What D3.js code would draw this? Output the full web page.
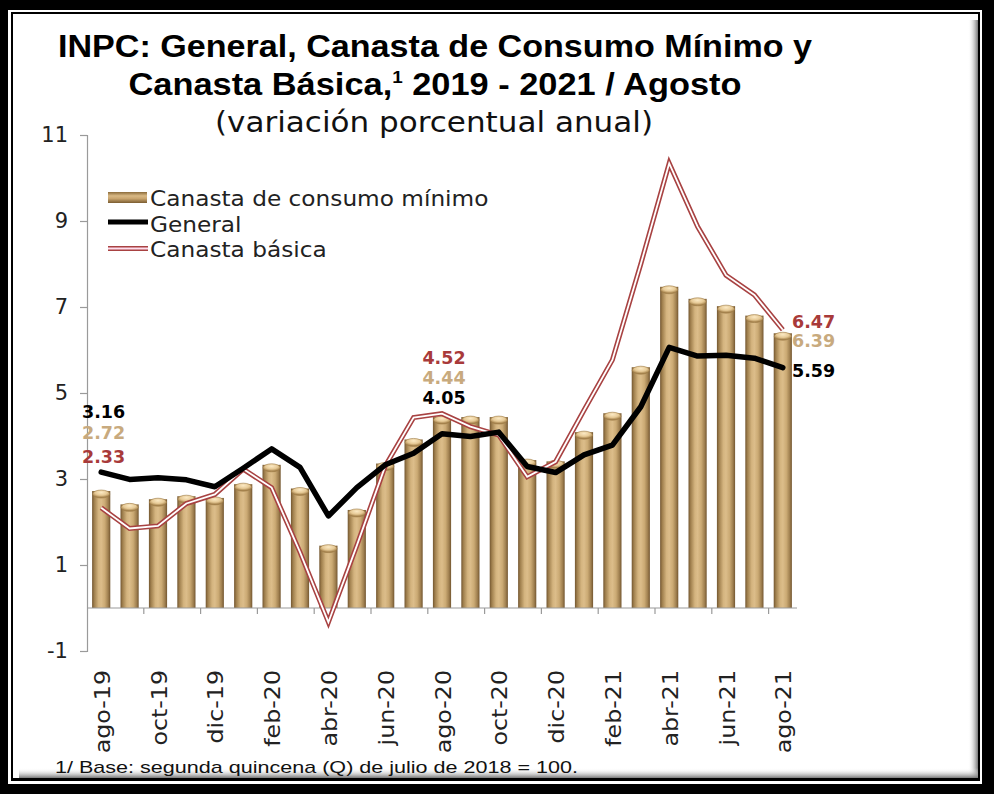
<!DOCTYPE html>
<html>
<head>
<meta charset="utf-8">
<script src="https://cdn.jsdelivr.net/npm/d3@7/dist/d3.min.js"></script>
<style>
  html, body { margin: 0; padding: 0; background: #000; }
  svg { display: block; }
</style>
</head>
<body>
<svg id="chart" width="994" height="794"></svg>
<script>
// ---------- DATA ----------
const months = ["ago-19","sep-19","oct-19","nov-19","dic-19","ene-20","feb-20","mar-20","abr-20","may-20","jun-20","jul-20",
                "ago-20","sep-20","oct-20","nov-20","dic-20","ene-21","feb-21","mar-21","abr-21","may-21","jun-21","jul-21","ago-21"];
const consumoMinimo = [2.72,2.41,2.53,2.60,2.56,2.88,3.33,2.78,1.45,2.28,3.36,3.92,
                       4.44,4.44,4.44,3.44,3.41,4.09,4.53,5.60,7.47,7.19,7.02,6.80,6.39];
const general = [3.16,2.99,3.03,2.98,2.82,3.25,3.70,3.27,2.14,2.80,3.33,3.60,
                 4.05,3.99,4.09,3.29,3.15,3.56,3.79,4.68,6.06,5.86,5.88,5.81,5.59];
const canastaBasica = [2.33,1.85,1.91,2.43,2.64,3.23,2.80,1.30,-0.33,1.45,3.30,4.43,
                       4.52,4.22,4.02,3.05,3.40,4.60,5.77,8.00,10.34,8.87,7.74,7.28,6.47];
const yTicks = [-1,1,3,5,7,9,11];
const seriesNames = ["Canasta de consumo mínimo","General","Canasta básica"];
const titleLine1 = "INPC: General, Canasta de Consumo Mínimo y";
const titleLine2a = "Canasta Básica,";
const titleLine2sup = "1";
const titleLine2b = " 2019 - 2021 / Agosto";
const subtitle = "(variación porcentual anual)";
const footnote = "1/ Base: segunda quincena (Q) de julio de 2018 = 100.";
const labelIdx = [0, 12, 24];

// ---------- COLORS ----------
const tanLabel = "#c8aa7e";
const redLine = "#a84242";
const redLabel = "#a83a3a";

const svg = d3.select("#chart");
const defs = svg.append("defs");

// Frame
svg.append("rect").attr("x",0).attr("y",0).attr("width",994).attr("height",794).attr("fill","#000");
svg.append("rect").attr("x",8).attr("y",10).attr("width",974).attr("height",774).attr("fill","#fff");
svg.append("rect").attr("x",11).attr("y",12).attr("width",969).attr("height",769).attr("fill","#000");
svg.append("rect").attr("x",13).attr("y",14).attr("width",965).attr("height",764).attr("fill","#fff");
const gR = defs.append("linearGradient").attr("id","shR").attr("x1","0").attr("x2","1").attr("y1","0").attr("y2","0");
gR.append("stop").attr("offset","0").attr("stop-color","#fff").attr("stop-opacity",0);
gR.append("stop").attr("offset","1").attr("stop-color","#777").attr("stop-opacity",1);
const gB = defs.append("linearGradient").attr("id","shB").attr("x1","0").attr("x2","0").attr("y1","0").attr("y2","1");
gB.append("stop").attr("offset","0").attr("stop-color","#fff").attr("stop-opacity",0);
gB.append("stop").attr("offset","1").attr("stop-color","#777").attr("stop-opacity",1);
svg.append("rect").attr("x",968).attr("y",20).attr("width",10).attr("height",758).attr("fill","url(#shR)");
svg.append("rect").attr("x",19).attr("y",768).attr("width",959).attr("height",10).attr("fill","url(#shB)");

// Bar gradient (cylinder)
const gBar = defs.append("linearGradient").attr("id","barG").attr("x1","0").attr("x2","1").attr("y1","0").attr("y2","0");
[["0","#735630"],["0.12","#a0804e"],["0.35","#d4b47f"],["0.5","#dcbd8a"],["0.7","#cbaa74"],["0.88","#a08050"],["1","#735630"]]
  .forEach(([o,c]) => gBar.append("stop").attr("offset",o).attr("stop-color",c));
const gCap = defs.append("radialGradient").attr("id","capG").attr("cx","0.5").attr("cy","0.3").attr("r","0.6");
gCap.append("stop").attr("offset","0").attr("stop-color","#fbe9c4");
gCap.append("stop").attr("offset","0.6").attr("stop-color","#e6c995");
gCap.append("stop").attr("offset","1").attr("stop-color","#a8854f");
const gLeg = defs.append("linearGradient").attr("id","legG").attr("x1","0").attr("x2","0").attr("y1","0").attr("y2","1");
[["0","#8a6a3a"],["0.35","#d9b985"],["0.6","#c9a56f"],["1","#7a5c30"]]
  .forEach(([o,c]) => gLeg.append("stop").attr("offset",o).attr("stop-color",c));

// ---------- SCALES ----------
const x = d3.scaleBand().domain(months).range([87, 797]).padding(0);
const y = d3.scaleLinear().domain([-1, 11]).range([651, 135]);
const step = x.step();
const barW = step * 0.64;
const cx = d => x(d) + step / 2;
const lf = "DejaVu Sans, sans-serif";

// Y axis
const yAxis = svg.append("g").attr("transform","translate(87,0)")
  .call(d3.axisLeft(y).tickValues(yTicks).tickSize(7).tickPadding(12).tickFormat(d3.format("d")));
yAxis.select(".domain").attr("stroke","#9a9a9a").attr("stroke-width",1.2);
yAxis.selectAll(".tick line").attr("stroke","#9a9a9a").attr("stroke-width",1.2);
yAxis.selectAll(".tick text").attr("font-family",lf).attr("font-size",21).attr("fill","#222")
  .text(d => d < 0 ? "-" + Math.abs(d) : d);

// Bars
const bars = svg.append("g");
months.forEach((m, i) => {
  const v = consumoMinimo[i];
  const top = y(v);
  const x0 = cx(m) - barW / 2;
  bars.append("rect").attr("x", x0).attr("y", top).attr("width", barW).attr("height", y(0) - top)
    .attr("fill","url(#barG)");
  bars.append("ellipse").attr("cx", cx(m)).attr("cy", top + 3).attr("rx", barW / 2 - 0.5).attr("ry", 4)
    .attr("fill","url(#capG)").attr("stroke","#9c7a46").attr("stroke-width",0.6);
});

// X axis baseline + ticks
svg.append("line").attr("x1",87).attr("x2",797).attr("y1",y(0)).attr("y2",y(0)).attr("stroke","#9a9a9a").attr("stroke-width",1.2);
months.forEach((m, i) => {
  if (i % 2 === 1 && i < months.length - 1) {
    const bx = x(m) + step;
    svg.append("line").attr("x1",bx).attr("x2",bx).attr("y1",y(0)).attr("y2",y(0)+6).attr("stroke","#9a9a9a").attr("stroke-width",1.2);
  }
});
// X labels (stretched slightly to mimic the wider original face)
const xLab = svg.append("g");
months.forEach((m, i) => {
  if (i % 2 === 0) {
    const t = xLab.append("text").attr("transform", `translate(${cx(m)+1},670) rotate(-90)`)
      .attr("text-anchor","end").attr("dy","0.36em")
      .attr("font-family",lf).attr("font-size",21).attr("fill","#222").text(m);
    const w = t.node().getComputedTextLength();
    t.attr("textLength", w * 1.13).attr("lengthAdjust","spacingAndGlyphs");
  }
});

// Lines
const line = d3.line().x((d,i) => cx(months[i])).y(d => y(d)).curve(d3.curveLinear);
svg.append("path").datum(canastaBasica).attr("d", line).attr("fill","none")
  .attr("stroke", redLine).attr("stroke-width",5).attr("stroke-linejoin","miter");
svg.append("path").datum(canastaBasica).attr("d", line).attr("fill","none")
  .attr("stroke", "#fff").attr("stroke-width",1.8).attr("stroke-linejoin","miter");
svg.append("path").datum(general).attr("d", line).attr("fill","none")
  .attr("stroke", "#000").attr("stroke-width",5.5).attr("stroke-linejoin","round").attr("stroke-linecap","round");

// Data labels
function lab(txt, xx, yy, col, anchor) {
  svg.append("text").attr("x", xx).attr("y", yy).attr("text-anchor", anchor || "start")
    .attr("font-family", lf).attr("font-weight","bold").attr("font-size",17.5).attr("fill",col).text(txt);
}
const f2 = d3.format(".2f");
lab(f2(general[labelIdx[0]]), 82, 418, "#000");
lab(f2(consumoMinimo[labelIdx[0]]), 82, 439, tanLabel);
lab(f2(canastaBasica[labelIdx[0]]), 82, 463, redLabel);
const mx = cx(months[labelIdx[1]]) + 2;
lab(f2(canastaBasica[labelIdx[1]]), mx, 364, redLabel, "middle");
lab(f2(consumoMinimo[labelIdx[1]]), mx, 384, tanLabel, "middle");
lab(f2(general[labelIdx[1]]), mx, 404, "#000", "middle");
lab(f2(canastaBasica[labelIdx[2]]), 792, 328, redLabel);
lab(f2(consumoMinimo[labelIdx[2]]), 792, 347, tanLabel);
lab(f2(general[labelIdx[2]]), 792, 377, "#000");

// Legend
const leg = svg.append("g");
leg.append("rect").attr("x",108).attr("y",192).attr("width",39).attr("height",11).attr("fill","url(#legG)");
leg.append("line").attr("x1",108).attr("x2",148).attr("y1",222).attr("y2",222).attr("stroke","#000").attr("stroke-width",5);
leg.append("line").attr("x1",108).attr("x2",148).attr("y1",248.5).attr("y2",248.5).attr("stroke",redLine).attr("stroke-width",5);
leg.append("line").attr("x1",108).attr("x2",148).attr("y1",248.5).attr("y2",248.5).attr("stroke","#fde").attr("stroke-width",1.8);
const legY = [206, 231.5, 257];
seriesNames.forEach((n, i) => {
  const t = leg.append("text").attr("x",150).attr("y",legY[i]).attr("font-family",lf).attr("font-size",21.5).attr("fill","#222").text(n);
  const w = t.node().getComputedTextLength();
  t.attr("textLength", w * 1.08).attr("lengthAdjust","spacingAndGlyphs");
});

// Titles
svg.append("text").attr("x",435).attr("y",57).attr("text-anchor","middle")
  .attr("font-family","Liberation Sans, Arial, sans-serif").attr("font-weight","bold").attr("font-size",31).attr("fill","#000")
  .attr("textLength",754).attr("lengthAdjust","spacingAndGlyphs").text(titleLine1);
const t2 = svg.append("text").attr("x",435).attr("y",95).attr("text-anchor","middle")
  .attr("font-family","Liberation Sans, Arial, sans-serif").attr("font-weight","bold").attr("font-size",31).attr("fill","#000")
  .attr("textLength",613).attr("lengthAdjust","spacingAndGlyphs");
t2.append("tspan").text(titleLine2a);
t2.append("tspan").attr("font-size",17).attr("dy",-12).text(titleLine2sup);
t2.append("tspan").attr("dy",12).text(titleLine2b);
svg.append("text").attr("x",434).attr("y",132).attr("text-anchor","middle")
  .attr("font-family",lf).attr("font-size",29).attr("fill","#111")
  .attr("textLength",438).attr("lengthAdjust","spacingAndGlyphs").text(subtitle);

// Footnote
svg.append("text").attr("x",55).attr("y",773)
  .attr("font-family","Liberation Sans, Arial, sans-serif").attr("font-size",17).attr("fill","#111")
  .attr("textLength",523).attr("lengthAdjust","spacingAndGlyphs").text(footnote);
</script>
</body>
</html>
